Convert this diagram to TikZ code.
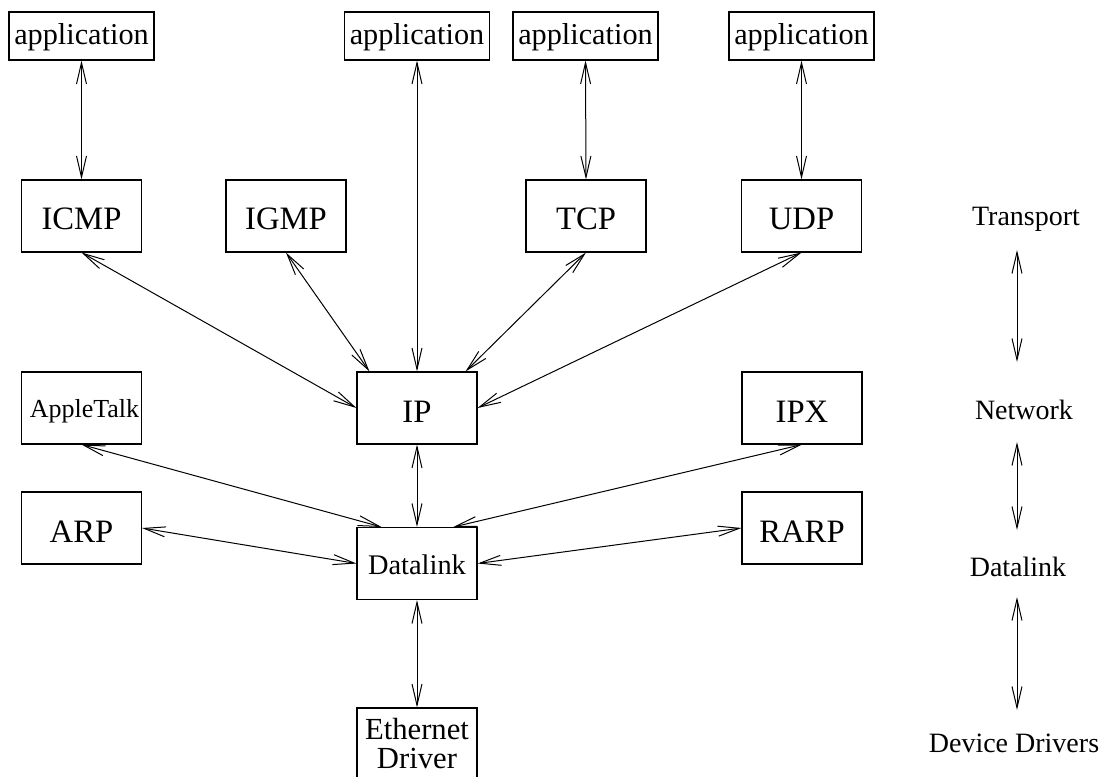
\documentclass[tikz,border=0pt]{standalone}
\usepackage{fontspec}
\setmainfont{Liberation Serif}
\usetikzlibrary{arrows.meta,calc}
\begin{document}
\begin{tikzpicture}[x=0.75pt,y=-0.75pt,
 box/.style={draw,line width=0.8pt,minimum width=90pt,minimum height=54pt,inner sep=0pt,text height=21pt,text depth=0pt,font=\fontsize{24.5}{26}\selectfont},
 appbox/.style={draw,line width=0.8pt,minimum width=108.75pt,minimum height=36pt,inner sep=0pt,text height=13.5pt,text depth=0pt,font=\fontsize{22.7}{26}\selectfont},
 lbl/.style={inner sep=0pt,font=\fontsize{21}{24}\selectfont},
 dbl/.style={line width=0.75pt,{Straight Barb[length=16pt,width=7.5pt]}-{Straight Barb[length=16pt,width=7.5pt]}}]
\clip (0,0) rectangle (1104,777);
% application boxes
\node[appbox] (app1) at (81.5,36) {application};
\node[appbox] (app2) at (417,36) {application};
\node[appbox] (app3) at (585.5,36) {application};
\node[appbox] (app4) at (801.5,36) {application};
% transport
\node[box] (icmp) at (81.5,216) {ICMP};
\node[box] (igmp) at (286,216) {IGMP};
\node[box] (tcp) at (586,216) {TCP};
\node[box] (udp) at (801.5,216) {UDP};
% network
\node[box,text height=15pt,font=\fontsize{19.5}{22}\selectfont] (apple) at (81.5,408) {\hspace*{4.5pt}AppleTalk};
\node[box] (ip) at (417,408) {IP};
\node[box] (ipx) at (802,408) {IPX};
% datalink
\node[box] (arp) at (81.5,528) {ARP};
\node[box,text height=17.2pt,font=\fontsize{21.3}{24}\selectfont] (dl) at (417,563.5) {Datalink};
\node[box] (rarp) at (802,528) {RARP};
\node[box,text height=,text depth=,align=center,font=\fontsize{23}{21.75}\selectfont] (eth) at (417,744) {Ethernet\\Driver};
% layer labels
\node[lbl] (ltrans) at (1026,219) {Transport};
\node[lbl] (lnet) at (1024,410) {Network};
\node[lbl] (ldl) at (1018,567) {Datalink};
\node[lbl] (ldev) at (1014,743) {Device Drivers};
\coordinate (r1a) at (1017,250);
\coordinate (r1b) at (1017,362);
\coordinate (r2a) at (1017,442);
\coordinate (r2b) at (1017,530);
\coordinate (r3a) at (1017,597);
\coordinate (r3b) at (1017,710);
% connectors
\draw[dbl] (app1.south) -- (icmp.north);
\draw[dbl] (app2.south) -- (ip.north);
\draw[dbl] (app3.south) -- (tcp.north);
\draw[dbl] (app4.south) -- (udp.north);
\draw[dbl] (icmp.south) -- (ip.west);
\draw[dbl] (igmp.south) -- ([xshift=9.75pt]ip.north west);
\draw[dbl] (tcp.south) -- ([xshift=-9pt]ip.north east);
\draw[dbl] (udp.south) -- (ip.east);
\draw[dbl] (apple.south) -- ([xshift=18.75pt]dl.north west);
\draw[dbl] (ipx.south) -- ([xshift=-18pt]dl.north east);
\draw[dbl] (ip.south) -- (dl.north);
\draw[dbl] (arp.east) -- (dl.west);
\draw[dbl] (rarp.west) -- (dl.east);
\draw[dbl] (dl.south) -- (eth.north);
\draw[dbl] (r1a) -- (r1b);
\draw[dbl] (r2a) -- (r2b);
\draw[dbl] (r3a) -- (r3b);
\end{tikzpicture}
\end{document}
